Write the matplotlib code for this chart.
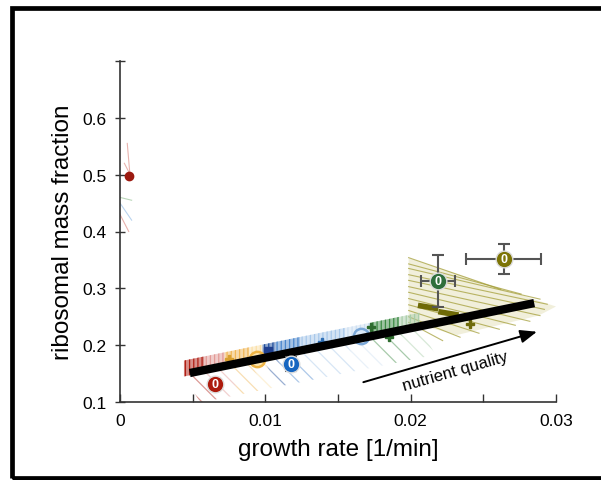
import numpy as np
import matplotlib
matplotlib.use("Agg")
import matplotlib.pyplot as plt
from matplotlib.patches import Rectangle, Polygon

plt.rcParams['font.family'] = ['Liberation Sans', 'DejaVu Sans']
plt.rcParams['hatch.linewidth'] = 0.9

# labelled strains: growth rate, ribosomal fraction, errors, colour
lab_x = [0.00653, 0.01175, 0.02186, 0.0264]
lab_y = [0.132, 0.167, 0.313, 0.352]
lab_xerr = [0.0, 0.0, 0.00117, 0.0026]
lab_yerr = [0.0, 0.012, 0.046, 0.026]
lab_colors = ['#ad1a0c', '#1565c0', '#2f6f3c', '#7c7405']
lab_text = ['0', '0', '0', '0']

# other conditions (small markers)
pt_x = [0.0075, 0.0102, 0.0139, 0.0173, 0.0185, 0.0241, 0.0006]
pt_y = [0.176, 0.190, 0.206, 0.232, 0.214, 0.237, 0.498]
pt_colors = ['#d9a030', '#1f3f8f', '#2f6fb5', '#2e6b2e', '#2e6b2e', '#6e6a08', '#9c1a10']
pt_markers = ['P', 's', 'P', 'P', 'P', 'P', 'o']

# short olive bars
bar_x = [0.0212, 0.0226]
bar_y = [0.267, 0.256]

# open circles
open_x = [0.0094, 0.01656]
open_y = [0.176, 0.216]
open_edge = ['#eeb445', '#7ba8d8']
open_face = ['#fde6b0', '#dbe9f8']

# trend line
trend_x = [0.0048, 0.0285]
trend_y = [0.151, 0.274]

# coloured streak band along the trend
band_x0 = [0.0044, 0.0058, 0.0072, 0.0089, 0.0098, 0.0107, 0.0124, 0.0155, 0.0172, 0.0192]
band_x1 = [0.0058, 0.0072, 0.0089, 0.0098, 0.0107, 0.0124, 0.0155, 0.0172, 0.0192, 0.0206]
band_colors = ['#b01e14', '#e29a96', '#f0b656', '#fbe0a8', '#1f4e9c',
               '#4a86cc', '#a8c8ea', '#cfe0f2', '#3d8a44', '#a8cca8']

# olive fan of high growth rates
fan_x = [0.01986, 0.0300, 0.0288, 0.0232, 0.01986]
fan_y = [0.3535, 0.268, 0.252, 0.218, 0.240]
fan_y0 = [0.354, 0.343, 0.335, 0.324, 0.314, 0.303, 0.293, 0.282, 0.271, 0.261, 0.250, 0.240]
fan_x1 = [0.0262, 0.0276, 0.0289, 0.0294, 0.0292, 0.0289, 0.0282, 0.0272, 0.0261, 0.0247, 0.0234, 0.0222]
fan_y1 = [0.298, 0.290, 0.281, 0.272, 0.263, 0.252, 0.242, 0.235, 0.228, 0.221, 0.214, 0.208]

# faint streaks near the y axis
ax_streak_x0 = [0.0005, 0.0, 0.0, 0.0, 0.0003]
ax_streak_y0 = [0.555, 0.46, 0.45, 0.43, 0.52]
ax_streak_x1 = [0.0007, 0.0008, 0.0008, 0.0006, 0.0007]
ax_streak_y1 = [0.495, 0.455, 0.42, 0.40, 0.50]
ax_streak_c = ['#e3a09a', '#a8cca8', '#a8c8ea', '#e3a09a', '#e3a09a']

fig = plt.figure(figsize=(6.01, 4.81), dpi=100)
fig.patches.append(Rectangle((12 / 601, 2 / 481), 1.2, 470 / 481, transform=fig.transFigure,
                             fill=False, edgecolor='black', linewidth=3.4, clip_on=False))

ax = fig.add_axes([120 / 601, 78 / 481, 436 / 601, 341 / 481])
ax.set_xlim(0, 0.03)
ax.set_ylim(0.1, 0.7)


def trend(x):
    x = np.asarray(x)
    return trend_y[0] + (x - trend_x[0]) * (trend_y[1] - trend_y[0]) / (trend_x[1] - trend_x[0])


# faint diagonal streaks below the band
for x0, x1, c in zip(band_x0, band_x1, band_colors):
    xs = [x0, x1, x1 + 0.0011, x0 + 0.0011]
    ys = [trend(x0), trend(x1), trend(x1) - 0.05, trend(x0) - 0.05]
    ax.add_patch(Polygon(np.c_[xs, ys], closed=True, facecolor='none',
                         edgecolor=c, alpha=0.45, hatch='\\\\', linewidth=0, zorder=1))

# band itself
for x0, x1, c in zip(band_x0, band_x1, band_colors):
    xx = np.array([x0, x1])
    ax.fill_between(xx, trend(xx) - 0.004, trend(xx) + 0.024, facecolor=c, alpha=0.5,
                    linewidth=0, zorder=2)
    ax.fill_between(xx, trend(xx) - 0.004, trend(xx) + 0.024, facecolor='none',
                    edgecolor=c, hatch='||||', linewidth=0, zorder=2)

ax.add_patch(Polygon(np.c_[fan_x, fan_y], closed=True, facecolor='#c8c070', alpha=0.25,
                     linewidth=0, zorder=1))
for y0, x1, y1 in zip(fan_y0, fan_x1, fan_y1):
    ax.plot([fan_x[0], x1], [y0, y1], color='#a09a30', lw=0.8, alpha=0.7, zorder=1)

for x0, y0, x1, y1, c in zip(ax_streak_x0, ax_streak_y0, ax_streak_x1, ax_streak_y1, ax_streak_c):
    ax.plot([x0, x1], [y0, y1], color=c, lw=0.8, alpha=0.8, zorder=1)

for x, y, c, m in zip(pt_x, pt_y, pt_colors, pt_markers):
    ax.plot(x, y, marker=m, color=c, markersize=6, zorder=4, clip_on=False)

for x, y in zip(bar_x, bar_y):
    ax.plot([x - 0.0007, x + 0.0007], [y + 0.003, y - 0.003], color='#6e6a08',
            lw=4, solid_capstyle='butt', zorder=4)

for x, y, ec, fc in zip(open_x, open_y, open_edge, open_face):
    ax.plot(x, y, marker='o', markersize=11, markerfacecolor=fc, markeredgecolor=ec,
            markeredgewidth=1.8, zorder=4)

ax.plot(trend_x, trend_y, color='black', lw=6, solid_capstyle='butt', zorder=5)

for x, y, xe, ye, c, t in zip(lab_x, lab_y, lab_xerr, lab_yerr, lab_colors, lab_text):
    ax.errorbar(x, y, xerr=xe if xe else None, yerr=ye if ye else None, fmt='none',
                ecolor='#555555', elinewidth=1.5, capsize=4, capthick=1.5, zorder=6)
    ax.plot(x, y, marker='o', markersize=12, markerfacecolor=c, markeredgecolor='#dddddd',
            markeredgewidth=1.0, zorder=7)
    ax.text(x, y, t, color='white', fontsize=9, fontweight='bold', ha='center',
            va='center', zorder=8)

ax.annotate('', xy=(0.02887, 0.225), xytext=(0.01656, 0.1335),
            arrowprops=dict(arrowstyle='-|>,head_length=1.0,head_width=0.4', color='black', lw=1.4))
ax.text(0.0231, 0.155, 'nutrient quality', rotation=16, fontsize=12,
        ha='center', va='center', rotation_mode='anchor')

for s in ['top', 'right']:
    ax.spines[s].set_visible(False)
for s in ['left', 'bottom']:
    ax.spines[s].set_linewidth(1.2)
    ax.spines[s].set_color('#333333')

ax.set_xticks([0, 0.005, 0.01, 0.015, 0.02, 0.025, 0.03])
ax.set_xticklabels(['0', '', '0.01', '', '0.02', '', '0.03'])
ax.set_yticks([0.1, 0.2, 0.3, 0.4, 0.5, 0.6, 0.7])
ax.set_yticklabels(['0.1', '0.2', '0.3', '0.4', '0.5', '0.6', ''])
ax.tick_params(axis='x', direction='in', length=6, width=1.0, color='#333333',
               labelsize=12.5, pad=8)
ax.tick_params(axis='y', direction='inout', length=7, width=1.0, color='#333333',
               labelsize=12.5, pad=6)

ax.set_xlabel('growth rate [1/min]', fontsize=17.5, labelpad=7)
ax.set_ylabel('ribosomal mass fraction', fontsize=17.5, labelpad=6)

fig.savefig('out.png', dpi=100)
